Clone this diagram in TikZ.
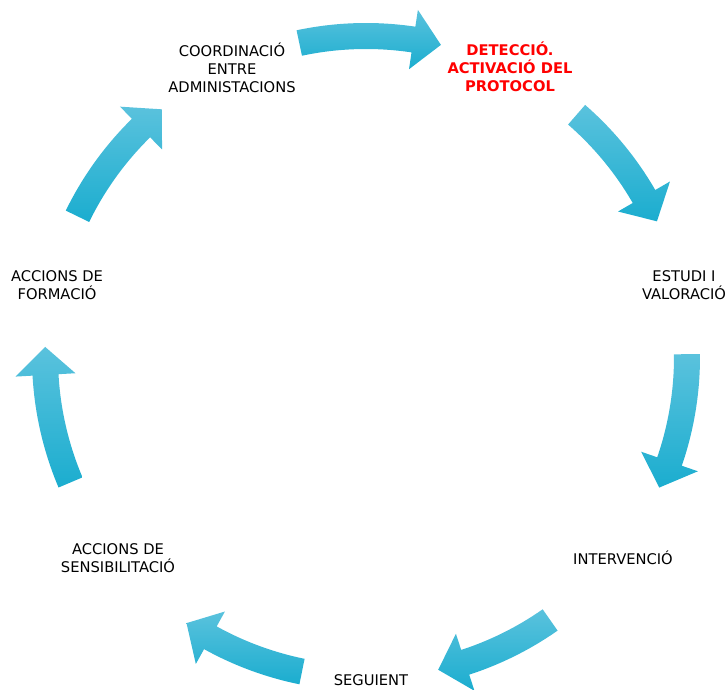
\documentclass[tikz,border=0pt]{standalone}
\usepackage{fontspec}
\setmainfont{DejaVu Sans}
\usepackage{tikz}
\definecolor{arrowlight}{HTML}{5AC2DD}
\definecolor{arrowdark}{HTML}{1BADCF}
\tikzset{
  step label/.style={align=center, font=\fontsize{14.7}{18}\selectfont},
  first label/.style={step label, text=red, font=\fontsize{14.7}{18}\selectfont\bfseries},
  cycle arrow/.style={top color=arrowlight, bottom color=arrowdark, shading angle=0}
}
\begin{document}
\begin{tikzpicture}[x=1pt,y=1pt]
\useasboundingbox (0,0) rectangle (728,689);
\node[first label] (detect) at (510,622) {DETECCIÓ.\\ACTIVACIÓ DEL\\PROTOCOL};
\node[step label] (estudi) at (684,404) {ESTUDI I\\VALORACIÓ};
\node[step label] (interv) at (623,131) {INTERVENCIÓ};
\node[step label] (seguient) at (371,9) {SEGUIENT};
\node[step label] (sensib) at (118,131) {ACCIONS DE\\SENSIBILITACIÓ};
\node[step label] (formacio) at (57,404) {ACCIONS DE\\FORMACIÓ};
\node[step label] (coord) at (232,621) {COORDINACIÓ\\ENTRE\\ADMINISTACIONS};
\begin{scope}[shift={(366,332)}]
\foreach \a/\b in {102/76.5, 49/25, 0.5/-24, -55/-77, -101.5/-124, -157/-181.8, 154/129.5}
{   \pgfmathsetmacro{\h}{\b+5}
    \shade[cycle arrow] (\a:334) arc[start angle=\a, end angle=\h, radius=334]
      -- (\h:351) -- (\b:321) -- (\h:291) -- (\h:308)
      arc[start angle=\h, end angle=\a, radius=308] -- cycle;
}
\end{scope}
\end{tikzpicture}
\end{document}
